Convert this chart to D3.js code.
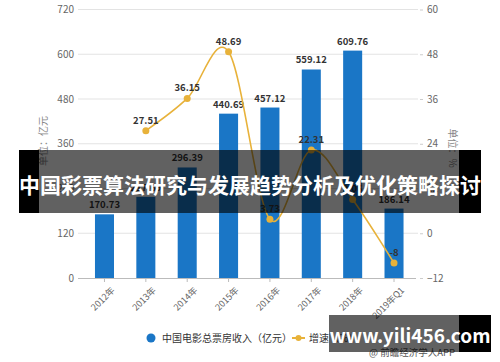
<!DOCTYPE html>
<html><head><meta charset="utf-8">
<script src="https://cdn.jsdelivr.net/npm/d3@7/dist/d3.min.js"></script>
<style>body{margin:0;background:#fff}svg{display:block}text{font-family:"Noto Sans CJK SC","Noto Sans",sans-serif}</style>
</head><body>
<script>
const categories = ["2012年","2013年","2014年","2015年","2016年","2017年","2018年","2019年Q1"];
const revenue = [170.73, 217.69, 296.39, 440.69, 457.12, 559.12, 609.76, 186.14];
const growth = [null, 27.51, 36.15, 48.69, 3.73, 22.31, 9.06, -8];
const growthLabels = ["", "27.51", "36.15", "48.69", "3.73", "22.31", "9.06", "-8"];
const leftTicks = [0, 120, 240, 360, 480, 600, 720];
const rightTicks = [-12, 0, 12, 24, 36, 48, 60];
const seriesNames = ["中国电影总票房收入（亿元）", "增速（%）"];
const title = "中国彩票算法研究与发展趋势分析及优化策略探讨";
const watermark = "www.yili456.com";
const source = "@ 前瞻经济学人APP";

const W = 500, H = 362;
const svg = d3.select("body").append("svg").attr("width", W).attr("height", H);
const blue = "#1a76c6", gold = "#e8b23a";

const x = d3.scaleBand().domain(categories).range([83.8, 414.7]).paddingInner(0.54).paddingOuter(0.27);
const yL = d3.scaleLinear().domain([0, 720]).range([278, 9.5]);
const yR = d3.scaleLinear().domain([-12, 60]).range([278, 9.5]);

// gridlines
svg.append("g").selectAll("line").data(leftTicks.slice(1)).join("line")
  .attr("x1", 78).attr("x2", 418).attr("y1", d => yL(d)).attr("y2", d => yL(d))
  .attr("stroke", "#e3e3e3").attr("stroke-width", 1);

// left axis
const gL = svg.append("g").attr("transform", "translate(78,0)")
  .call(d3.axisLeft(yL).tickValues(leftTicks).tickSize(0).tickPadding(4));
gL.select(".domain").remove();
gL.selectAll("text").attr("fill", "#666").attr("font-size", 10);

// right axis
const gR = svg.append("g").attr("transform", "translate(420,0)")
  .call(d3.axisRight(yR).tickValues(rightTicks).tickSize(3).tickPadding(4));
gR.select(".domain").remove();
gR.selectAll("line").attr("stroke", "#ccc");
gR.selectAll("text").attr("fill", "#666").attr("font-size", 10);

// x axis
const gX = svg.append("g").attr("transform", "translate(0,278)")
  .call(d3.axisBottom(x).tickSize(4).tickPadding(3));
gX.select(".domain").attr("stroke", "#bbb").attr("d", "M78,0.5H416");
gX.selectAll("line").attr("stroke", "#bbb");
gX.selectAll("text").attr("fill", "#666").attr("font-size", 9)
  .attr("text-anchor", "end").attr("dy", "0.3em")
  .attr("transform", "translate(4,6) rotate(-45)");

// axis titles
svg.append("text").attr("transform", "translate(47,141) rotate(-90)")
  .attr("text-anchor", "middle").attr("font-size", 10).attr("fill", "#888").text("单位：亿元");
svg.append("text").attr("transform", "translate(449,148) rotate(90)")
  .attr("text-anchor", "middle").attr("font-size", 10).attr("fill", "#888").text("单位：%");

// bars
svg.append("g").selectAll("rect").data(revenue).join("rect")
  .attr("x", (d, i) => x(categories[i])).attr("width", x.bandwidth())
  .attr("y", d => yL(d)).attr("height", d => yL(0) - yL(d)).attr("fill", blue);
svg.append("g").selectAll("text").data(revenue).join("text")
  .attr("x", (d, i) => x(categories[i]) + x.bandwidth() / 2).attr("y", d => yL(d) - 6)
  .attr("text-anchor", "middle").attr("font-size", 9.5).attr("font-weight", "bold")
  .attr("fill", "#333").text(d => d.toFixed(2));

// line
const pts = growth.map((g, i) => g == null ? null : [x(categories[i]) + x.bandwidth() / 2, yR(g), i]).filter(p => p);
svg.append("path").datum(pts)
  .attr("d", d3.line().curve(d3.curveCardinal.tension(0)))
  .attr("fill", "none").attr("stroke", gold).attr("stroke-width", 1.6);
svg.append("g").selectAll("circle").data(pts).join("circle")
  .attr("cx", d => d[0]).attr("cy", d => d[1]).attr("r", 3.5).attr("fill", gold);
svg.append("g").selectAll("text").data(pts).join("text")
  .attr("x", d => d[0]).attr("y", d => d[1] - 7)
  .attr("text-anchor", "middle").attr("font-size", 9.5).attr("font-weight", "bold")
  .attr("fill", "#333").text(d => growthLabels[d[2]]);

// legend
svg.append("circle").attr("cx", 151).attr("cy", 338).attr("r", 4.5).attr("fill", blue);
svg.append("text").attr("x", 162).attr("y", 341.5).attr("font-size", 10).attr("fill", "#333").text(seriesNames[0]);
svg.append("line").attr("x1", 292).attr("x2", 305).attr("y1", 338).attr("y2", 338).attr("stroke", gold).attr("stroke-width", 2);
svg.append("circle").attr("cx", 298.5).attr("cy", 338).attr("r", 3).attr("fill", gold);
svg.append("text").attr("x", 309).attr("y", 341.5).attr("font-size", 10).attr("fill", "#333").text(seriesNames[1]);

// source text
svg.append("text").attr("x", 455).attr("y", 356).attr("text-anchor", "end").attr("font-size", 9.5).attr("fill", "#555").text(source);

// title overlay
svg.append("rect").attr("x", 19).attr("y", 150).attr("width", 20).attr("height", 63).attr("fill", "#000");
svg.append("rect").attr("x", 459).attr("y", 150).attr("width", 22).attr("height", 63).attr("fill", "#000");
svg.append("rect").attr("x", 39).attr("y", 150).attr("width", 420).attr("height", 63).attr("fill", "rgba(0,0,0,0.62)");
svg.append("text").attr("x", 250).attr("y", 192.5).attr("text-anchor", "middle")
  .attr("font-size", 21).attr("font-weight", "bold").attr("fill", "#fff").text(title);

// watermark overlay
svg.append("rect").attr("x", 329).attr("y", 315).attr("width", 130).attr("height", 37).attr("fill", "rgba(0,0,0,0.62)");
svg.append("rect").attr("x", 459).attr("y", 315).attr("width", 32).attr("height", 37).attr("fill", "#000");
svg.append("text").attr("x", 410).attr("y", 343).attr("text-anchor", "middle")
  .attr("font-size", 19).attr("font-weight", "bold").attr("fill", "#fff").text(watermark);
</script>
</body></html>
